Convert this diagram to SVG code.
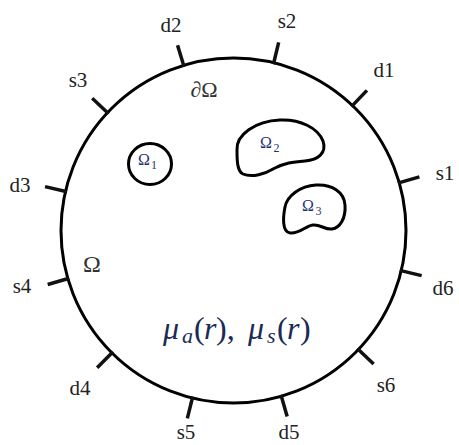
<svg xmlns="http://www.w3.org/2000/svg" width="459" height="445" viewBox="0 0 459 445">
<style>
.edge{fill:none;stroke:#000;stroke-width:3}
.tick{stroke:#111;stroke-width:3.5;stroke-linecap:butt}
.lbl{font-family:"Liberation Serif","DejaVu Serif",serif;font-size:21px;fill:#222;text-anchor:middle}
.om{font-family:"Liberation Serif","DejaVu Serif",serif;fill:#1f3270}
.big{font-family:"Liberation Serif","DejaVu Serif",serif;fill:#333}
.mu{font-family:"Liberation Serif","DejaVu Serif",serif;font-size:32px;fill:#1b2a55}
</style>
<rect width="459" height="445" fill="#fff"/>
<g id="domain">
<circle class="edge" cx="233.5" cy="230.5" r="172.5"/>
<text class="big" x="92" y="272" font-size="24" text-anchor="middle">Ω</text>
<text class="big" x="204" y="97" font-size="22" text-anchor="middle">∂Ω</text>
</g>
<g id="omega1">
<ellipse class="edge" cx="150" cy="164" rx="21.5" ry="20.5"/>
<text class="om" x="138" y="165" font-size="16">Ω</text>
<text class="om" x="151" y="169" font-size="12">1</text>
</g>
<g id="omega2">
<path class="edge" d="M237,150 C236,135 255,121 280,120 C300,119 318,128 323,141 C327,153 318,160 305,161 C292,162 285,163 275,168 C265,174 252,178 243,174 C237,171 237,160 237,150 Z"/>
<text class="om" x="260" y="148" font-size="16">Ω</text>
<text class="om" x="273.5" y="152" font-size="12">2</text>
</g>
<g id="omega3">
<path class="edge" d="M285,207 C287,196 300,186 316,185 C332,184 344,192 345,205 C346,218 340,228 332,229 C325,230 320,224 313,225 C305,226 300,234 290,233 C282,232 283,217 285,207 Z"/>
<text class="om" x="302" y="211" font-size="16">Ω</text>
<text class="om" x="315.5" y="215" font-size="12">3</text>
</g>
<g id="coefficients" class="mu">
<text x="163" y="339" font-style="italic">μ</text>
<text x="182" y="343" font-size="22" font-style="italic">a</text>
<text x="194" y="339">(</text>
<text x="204" y="339" font-style="italic">r</text>
<text x="216" y="339">),</text>
<text x="248" y="339" font-style="italic">μ</text>
<text x="267" y="343" font-size="22" font-style="italic">s</text>
<text x="277" y="339">(</text>
<text x="287" y="339" font-style="italic">r</text>
<text x="300" y="339">)</text>
</g>
<g id="probes">
<g id="d2"><line class="tick" x1="404.5" y1="230.5" x2="427" y2="230.5" transform="rotate(-106.8 233.5 230.5)"/><text class="lbl" x="171" y="32">d2</text></g>
<g id="s2"><line class="tick" x1="404.5" y1="230.5" x2="427" y2="230.5" transform="rotate(-76.5 233.5 230.5)"/><text class="lbl" x="287" y="28">s2</text></g>
<g id="d1"><line class="tick" x1="404.5" y1="230.5" x2="427" y2="230.5" transform="rotate(-46.4 233.5 230.5)"/><text class="lbl" x="384" y="77">d1</text></g>
<g id="s1"><line class="tick" x1="404.5" y1="230.5" x2="427" y2="230.5" transform="rotate(-16.1 233.5 230.5)"/><text class="lbl" x="445" y="180">s1</text></g>
<g id="d6"><line class="tick" x1="404.5" y1="230.5" x2="427" y2="230.5" transform="rotate(13.5 233.5 230.5)"/><text class="lbl" x="443" y="295">d6</text></g>
<g id="s6"><line class="tick" x1="404.5" y1="230.5" x2="427" y2="230.5" transform="rotate(43.6 233.5 230.5)"/><text class="lbl" x="386" y="392">s6</text></g>
<g id="d5"><line class="tick" x1="404.5" y1="230.5" x2="427" y2="230.5" transform="rotate(73.9 233.5 230.5)"/><text class="lbl" x="289" y="439">d5</text></g>
<g id="s5"><line class="tick" x1="404.5" y1="230.5" x2="427" y2="230.5" transform="rotate(103.8 233.5 230.5)"/><text class="lbl" x="186" y="439">s5</text></g>
<g id="d4"><line class="tick" x1="404.5" y1="230.5" x2="427" y2="230.5" transform="rotate(134.8 233.5 230.5)"/><text class="lbl" x="80" y="395">d4</text></g>
<g id="s4"><line class="tick" x1="404.5" y1="230.5" x2="427" y2="230.5" transform="rotate(163.8 233.5 230.5)"/><text class="lbl" x="22" y="293">s4</text></g>
<g id="d3"><line class="tick" x1="404.5" y1="230.5" x2="427" y2="230.5" transform="rotate(193.1 233.5 230.5)"/><text class="lbl" x="20" y="192">d3</text></g>
<g id="s3"><line class="tick" x1="404.5" y1="230.5" x2="427" y2="230.5" transform="rotate(223.1 233.5 230.5)"/><text class="lbl" x="78" y="87">s3</text></g>
</g>
</svg>
